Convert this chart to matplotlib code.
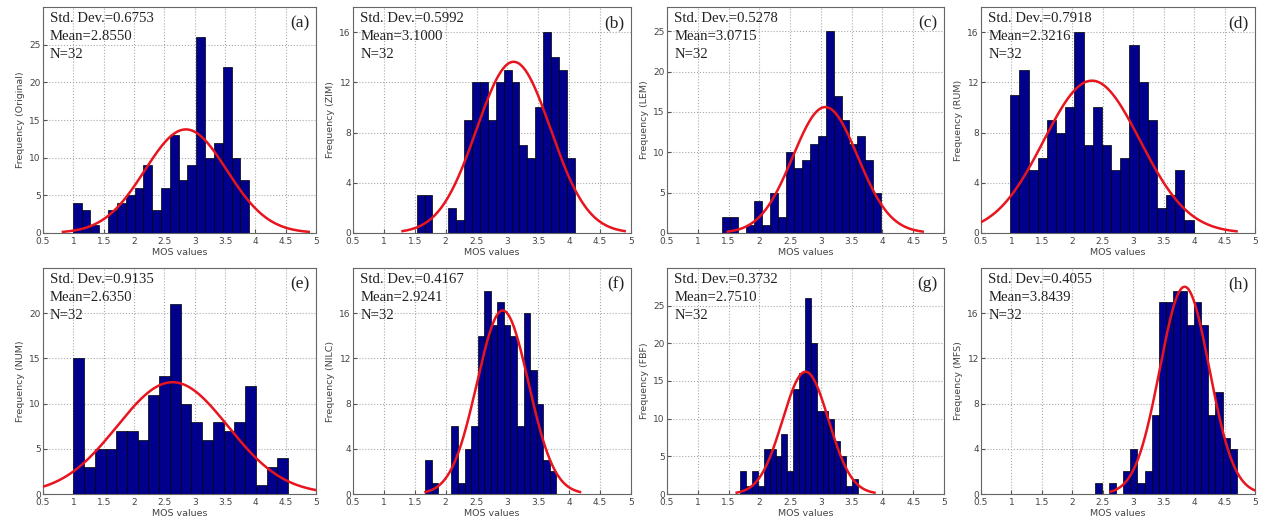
import numpy as np
import matplotlib
matplotlib.use("Agg")
import matplotlib.pyplot as plt

# histogram counts (20 bins each)
counts_a = [4, 3, 1, 0, 3, 4, 5, 6, 9, 3, 6, 13, 7, 9, 26, 10, 12, 22, 10, 7]
counts_b = [3, 3, 0, 0, 2, 1, 9, 12, 12, 9, 12, 13, 12, 7, 6, 10, 16, 14, 13, 6]
counts_c = [2, 2, 0, 1, 4, 1, 5, 2, 10, 8, 9, 11, 12, 25, 17, 14, 11, 12, 9, 5]
counts_d = [11, 13, 5, 6, 9, 8, 10, 16, 7, 10, 7, 5, 6, 15, 12, 9, 2, 3, 5, 1]
counts_e = [15, 3, 5, 5, 7, 7, 6, 11, 13, 21, 10, 8, 6, 8, 7, 8, 12, 1, 3, 4]
counts_f = [3, 1, 0, 0, 6, 1, 4, 6, 14, 18, 15, 17, 15, 14, 6, 16, 11, 8, 3, 2]
counts_g = [3, 1, 3, 1, 6, 6, 5, 8, 3, 14, 16, 26, 20, 11, 11, 10, 7, 5, 1, 2]
counts_h = [1, 0, 1, 0, 2, 4, 1, 2, 7, 17, 17, 18, 18, 15, 17, 15, 7, 9, 5, 4]

# range of the binned MOS values (min, max)
ranges = [(0.99, 3.90), (1.53, 4.09), (1.40, 3.98), (0.98, 3.99),
          (1.00, 4.54), (1.67, 3.79), (1.69, 3.60), (2.37, 4.70)]

means = [2.8550, 3.1000, 3.0715, 2.3216, 2.6350, 2.9241, 2.7510, 3.8439]
stds = [0.6753, 0.5992, 0.5278, 0.7918, 0.9135, 0.4167, 0.3732, 0.4055]
n_imgs = 32

methods = ['Original', 'ZIM', 'LEM', 'RUM', 'NUM', 'NILC', 'FBF', 'MFS']
letters = ['(a)', '(b)', '(c)', '(d)', '(e)', '(f)', '(g)', '(h)']
ytops = [30, 18, 28, 18, 25, 20, 30, 20]
ysteps = [5, 4, 5, 4, 5, 4, 5, 4]
ymaxtick = [25, 16, 25, 16, 20, 16, 25, 16]

all_counts = [counts_a, counts_b, counts_c, counts_d,
              counts_e, counts_f, counts_g, counts_h]

fig = plt.figure(figsize=(12.63, 5.27), dpi=100)

lefts = [43, 353, 667, 981]
widths = [273, 278, 277, 274]
W, H = 1263., 527.

for i in range(8):
    r, c = divmod(i, 4)
    bottom = 233 if r == 0 else 494
    ax = fig.add_axes([lefts[c] / W, (H - bottom) / H, widths[c] / W, 226 / H])

    cnt = np.array(all_counts[i])
    lo, hi = ranges[i]
    edges = np.linspace(lo, hi, len(cnt) + 1)
    bw = edges[1] - edges[0]
    ax.bar(edges[:-1], cnt, width=bw, align='edge', color='#00008C',
           edgecolor='black', linewidth=0.5, zorder=2)

    # fitted normal curve (mean +- 3 sd), scaled to counts
    m, s = means[i], stds[i]
    xs = np.linspace(m - 3 * s, m + 3 * s, 200)
    ys = cnt.sum() * bw * np.exp(-0.5 * ((xs - m) / s) ** 2) / (s * np.sqrt(2 * np.pi))
    ax.plot(xs, ys, color='#E8141E', lw=1.8, zorder=3)

    ax.set_xlim(0.5, 5)
    ax.set_ylim(0, ytops[i])
    ax.set_xticks(np.arange(0.5, 5.01, 0.5))
    ax.set_xticklabels(['0.5', '1', '1.5', '2', '2.5', '3', '3.5', '4', '4.5', '5'])
    ax.set_yticks(np.arange(0, ymaxtick[i] + 0.1, ysteps[i]))
    ax.grid(True, ls=':', color='#aaaaaa', lw=0.8, zorder=0)
    ax.set_axisbelow(True)
    ax.tick_params(direction='in', length=3, labelsize=6.5, colors='#555555',
                   labelcolor='#444444', pad=1.5)
    ax.tick_params(axis='x', pad=3)
    for sp in ax.spines.values():
        sp.set_color('#666666')
        sp.set_linewidth(0.8)

    ax.set_xlabel('MOS values', fontsize=6.8, color='#444444', labelpad=1)
    ax.set_ylabel('Frequency (%s)' % methods[i], fontsize=6.8, color='#444444',
                  labelpad=3)

    txt = 'Std. Dev.=%.4f\nMean=%.4f\nN=%d' % (s, m, n_imgs)
    ax.text(0.026, 0.98, txt, transform=ax.transAxes, va='top', ha='left',
            family='Liberation Serif', fontsize=10.6, linespacing=1.5,
            color='#222222', zorder=4)
    ax.text(0.975, 0.965, letters[i], transform=ax.transAxes, va='top',
            ha='right', family='Liberation Serif', fontsize=12.5,
            color='#222222', zorder=4)

fig.savefig('out.png', dpi=100)
